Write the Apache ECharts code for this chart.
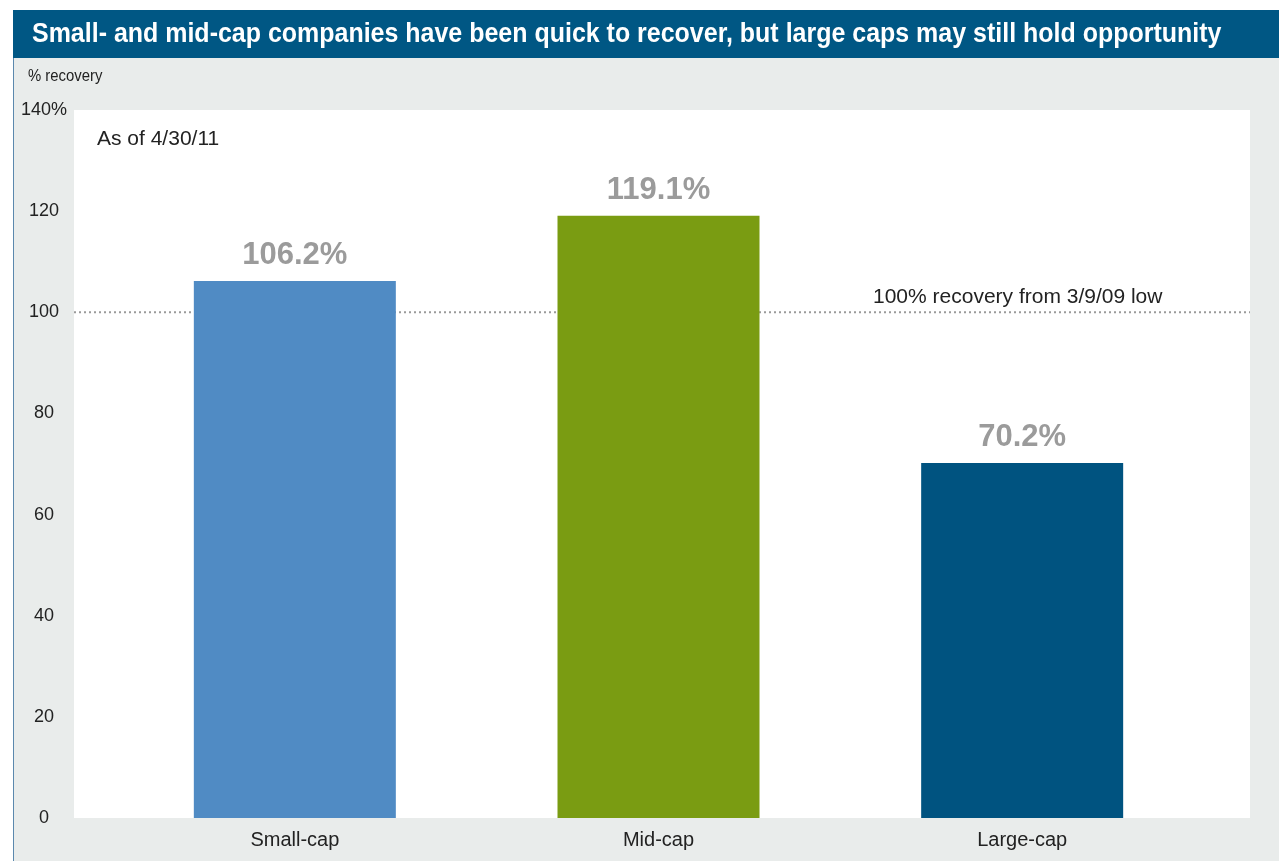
<!DOCTYPE html>
<html>
<head>
<meta charset="utf-8">
<script src="https://cdn.jsdelivr.net/npm/echarts@6/dist/echarts.min.js"></script>
<style>
  html, body { margin: 0; padding: 0; background: #fff; }
  #chart { width: 1279px; height: 861px; }
</style>
</head>
<body>
<div id="chart"></div>
<script>
const categories = ['Small-cap', 'Mid-cap', 'Large-cap'];
const recovery = [106.2, 119.1, 70.2];
const barColors = ['#508bc4', '#7a9c12', '#005380'];
const yTicks = [0, 20, 40, 60, 80, 100, 120, 140];
const refLine = [[0, 100], [1, 100]];

const sans = '"Liberation Sans", Arial, sans-serif';

const chart = echarts.init(document.getElementById('chart'));

chart.setOption({
    backgroundColor: '#e9eceb',
    animation: false,
    graphic: {
        elements: [
            { type: 'rect', left: 0, top: 0, shape: { width: 1279, height: 10 }, style: { fill: '#fff' } },
            { type: 'rect', left: 0, top: 0, shape: { width: 13, height: 861 }, style: { fill: '#fff' } },
            { type: 'rect', left: 13, top: 10, shape: { width: 1266, height: 48 }, style: { fill: '#005784' } },
            { type: 'rect', left: 13, top: 58, shape: { width: 1, height: 803 }, style: { fill: '#5b88ad' } },
            {
                type: 'text', x: 32, y: 21, scaleX: 0.925,
                style: {
                    text: 'Small- and mid-cap companies have been quick to recover, but large caps may still hold opportunity',
                    fill: '#fff', font: 'bold 27px ' + sans
                }
            },
            {
                type: 'text', x: 28, y: 69, scaleX: 0.93,
                style: { text: '% recovery', fill: '#222', font: '16px ' + sans }
            },
            {
                type: 'text', left: 97, top: 129,
                style: { text: 'As of 4/30/11', fill: '#222', font: '21px ' + sans }
            },
            {
                type: 'text', left: 873, top: 287,
                style: { text: '100% recovery from 3/9/09 low', fill: '#222', font: '21px ' + sans }
            }
        ]
    },
    grid: [
        { left: 74, right: 29, top: 110, bottom: 43, show: true, backgroundColor: '#fff', borderWidth: 0 },
        { left: 113, right: 75, top: 110, bottom: 43 }
    ],
    xAxis: [
        { gridIndex: 0, type: 'value', min: 0, max: 1, show: false },
        {
            gridIndex: 1, type: 'category', data: categories,
            axisLine: { show: false }, axisTick: { show: false },
            axisLabel: { color: '#222', fontSize: 20, fontFamily: sans, margin: 12 }
        }
    ],
    yAxis: [
        { gridIndex: 0, type: 'value', min: 0, max: 140, show: false },
        {
            gridIndex: 1, type: 'value', min: 0, max: 140, interval: 20,
            axisLine: { show: false }, axisTick: { show: false }, splitLine: { show: false },
            axisLabel: {
                align: 'center', margin: 69, color: '#222', fontSize: 18, fontFamily: sans,
                customValues: yTicks,
                formatter: v => v === 140 ? '140%' : String(v)
            }
        }
    ],
    series: [
        {
            type: 'line', xAxisIndex: 0, yAxisIndex: 0, data: refLine, z: 1,
            symbol: 'none', silent: true,
            lineStyle: { color: '#9a9a9a', width: 2, type: [2, 3] }
        },
        {
            type: 'bar', xAxisIndex: 1, yAxisIndex: 1, barWidth: 202, z: 3,
            data: recovery.map((v, i) => ({ value: v, itemStyle: { color: barColors[i] } })),
            label: {
                show: true, position: 'top', distance: 10,
                color: '#9b9b9b', fontSize: 31, fontWeight: 'bold', fontFamily: sans,
                formatter: p => p.value.toFixed(1) + '%'
            }
        }
    ]
});
</script>
</body>
</html>
